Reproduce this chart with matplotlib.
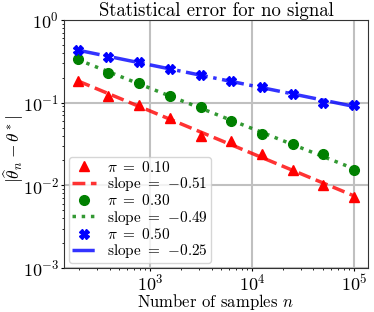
import matplotlib
matplotlib.use("Agg")
import matplotlib.pyplot as plt
import numpy as np

plt.rcParams['font.family'] = 'serif'
plt.rcParams['font.serif'] = ['cmr10']
plt.rcParams['mathtext.fontset'] = 'cm'
plt.rcParams['axes.unicode_minus'] = False
plt.rcParams['axes.formatter.use_mathtext'] = True

n_samples = [195.3, 390.6, 781.25, 1562.5, 3125, 6250, 12500, 25000, 50000, 100000]
err_pi10 = [0.184, 0.119, 0.0946, 0.0654, 0.0393, 0.0342, 0.0236, 0.0152, 0.0100, 0.0073]
err_pi30 = [0.336, 0.228, 0.173, 0.119, 0.0878, 0.0607, 0.0423, 0.0312, 0.0236, 0.0153]
err_pi50 = [0.435, 0.355, 0.309, 0.257, 0.213, 0.182, 0.153, 0.129, 0.100, 0.094]
pi_labels = ['0.10', '0.30', '0.50']
slope_labels = ['-0.51', '-0.49', '-0.25']

series = [err_pi10, err_pi30, err_pi50]
colors = ['red', 'green', 'blue']
markers = ['^', 'o', 'X']
styles = ['--', ':', '-.']

fig = plt.figure(figsize=(3.74, 3.12), dpi=100)
ax = fig.add_axes([0.171, 0.141, 0.813, 0.795])

x = np.array(n_samples)
for errs, c, m, ls, pl, sl in zip(series, colors, markers, styles, pi_labels, slope_labels):
    y = np.array(errs)
    ax.plot(x, y, linestyle='none', marker=m, color=c, markersize=7,
            label=r'$\pi\ =\ %s$' % pl)
    # least-squares fit in log-log space
    b, a = np.polyfit(np.log10(x), np.log10(y), 1)
    ax.plot(x, 10 ** (a + b * np.log10(x)), linestyle=ls, color=c, lw=2.5,
            alpha=0.8, label=r'slope $=$ $%s$' % sl)

ax.set_xscale('log')
ax.set_yscale('log')
ax.set_xlim(143, 1.37e5)
ax.set_ylim(1e-3, 1)
ax.grid(True, which='major', color='#c0c0c0', lw=1.5)
ax.set_axisbelow(True)
ax.tick_params(axis='both', which='major', labelsize=13, length=2, pad=1.5)
ax.tick_params(axis='both', which='minor', length=1.5)
for s in ax.spines.values():
    s.set_color('#333333')

ax.set_title('Statistical error for no signal', fontsize=13.5, pad=2)
ax.set_xlabel(r'Number of samples $n$', fontsize=12, labelpad=-1)
ax.set_ylabel(r'$|\widehat{\theta}_n - \theta^*|$', fontsize=12.5)
ax.yaxis.set_label_coords(-0.125, 0.48)

ax.legend(loc='lower left', fontsize=11, framealpha=0.8, borderpad=0.2,
          handlelength=1.6, handletextpad=0.7, labelspacing=0.02,
          borderaxespad=0.3)

fig.savefig('out.png', dpi=100)
